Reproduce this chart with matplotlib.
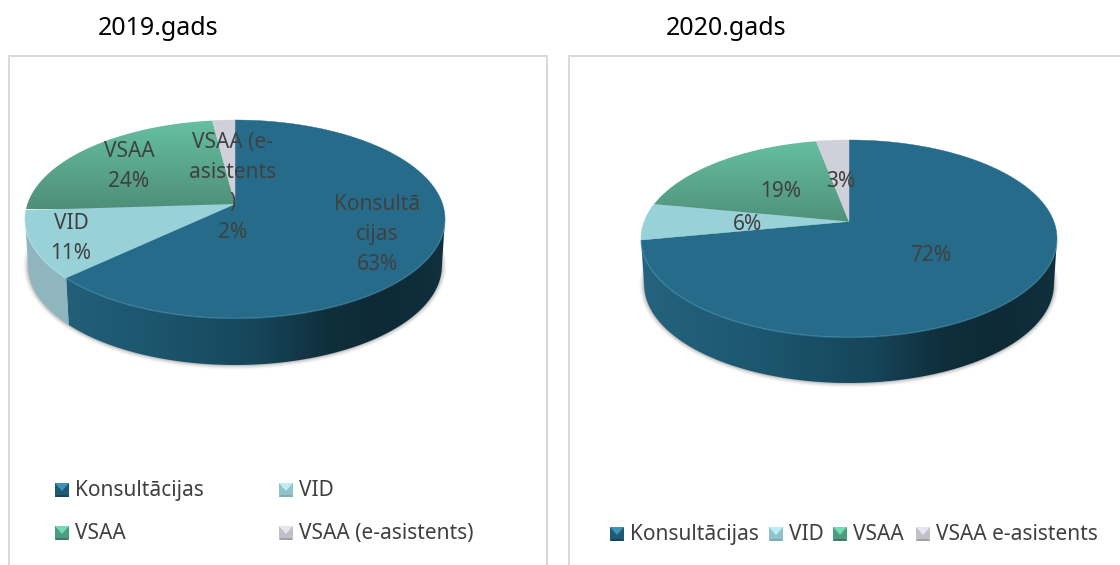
import numpy as np
import matplotlib
matplotlib.use("Agg")
import matplotlib.pyplot as plt
from matplotlib.colors import LinearSegmentedColormap as LSC
from matplotlib.patches import Polygon, Rectangle

# ---------- data ----------
titles = ["2019.gads", "2020.gads"]
categories_2019 = ["Konsultācijas", "VID", "VSAA", "VSAA (e-asistents)"]
categories_2020 = ["Konsultācijas", "VID", "VSAA", "VSAA e-asistents"]
values_2019 = [63, 11, 24, 2]
values_2020 = [72, 6, 19, 3]
wrapped_2019 = ["Konsultā\ncijas", "VID", "VSAA", "VSAA (e-\nasistents\n)"]
wrapped_2020 = ["", "", "", ""]

# ---------- styles ----------
W, H = 1120, 565
TEXT = "#404040"
TOP = ["#266C8A", "#98D2D8", None, "#D0D0DA"]
RIM = ["#4A93B2", "#B4F0F4", "#7CCFB0", "#E0E0E8"]
GREEN = LSC.from_list("g", ["#4E8F78", "#66C0A1"])
WALLS = [
    LSC.from_list("w0", [(0, "#25637E"), (.3, "#1C566E"), (.55, "#16465A"),
                         (.72, "#102F3C"), (.85, "#0D2A36"), (1, "#10303D")]),
    LSC.from_list("w1", ["#90B6BF", "#86AEB6"]),
    LSC.from_list("w2", ["#47806C", "#3E7060"]),
    LSC.from_list("w3", ["#A8A8B0", "#98989F"]),
]
SWATCH = [("#1E5A74", "#3D93B8", "#15465A"), ("#8FC3C9", "#BDEFF2", "#7FAAB0"),
          ("#4E9C80", "#70DDB6", "#3F7A65"), ("#C0C0C8", "#E6E6EC", "#A0A0A8")]

plt.rcParams["font.family"] = ["Noto Sans", "DejaVu Sans"]
fig = plt.figure(figsize=(W / 100, H / 100), dpi=100)
over = fig.add_axes([0, 0, 1, 1], zorder=1)
over.set_xlim(0, W)
over.set_ylim(H, 0)
over.axis("off")


def project(theta, c):
    x, y = np.sin(theta), np.cos(theta)
    den = 1 + c * y
    return x * np.sqrt(1 - c * c) / den, (y + c) / den


def draw_pie(values, cx, cy, a, b, apex_px, depth_px):
    c = apex_px / b
    d = depth_px / b
    mx, my = 0.06, 0.12
    left, right = cx - a * (1 + mx), cx + a * (1 + mx)
    top, bottom = cy - b * (1 + my), cy + b * (1 + d + my)
    ax = fig.add_axes([left / W, 1 - bottom / H, (right - left) / W, (bottom - top) / H], zorder=2)
    ax.axis("off")
    xlim = (-1 - mx, 1 + mx)
    ylim = (-1 - d - my, 1 + my)

    # soft shadow below the wall
    t = np.linspace(0, 2 * np.pi, 240)
    for g, al in [(.022, .05), (.016, .07), (.010, .10), (.005, .14)]:
        ax.fill(np.sin(t) * (.985 + g), np.cos(t) * (1 + g * 2) - d, color="#404040", alpha=al, lw=0)

    angles = 2 * np.pi * np.cumsum([0] + list(values)) / sum(values)

    # walls
    for i in range(len(values)):
        th = np.linspace(angles[i], angles[i + 1], 200)
        X, Y = project(th, c)
        s = np.arctan2(X, Y) % (2 * np.pi)
        s = s[(s >= np.pi / 2) & (s <= 3 * np.pi / 2)]
        if len(s) < 2:
            continue
        u0, u1 = np.sin(s), np.cos(s)
        pts = np.r_[np.c_[u0, u1], np.c_[u0[::-1] * .985, u1[::-1] - d]]
        patch = Polygon(pts, closed=True, fc="none", ec="none")
        ax.add_patch(patch)
        im = ax.imshow(np.linspace(0, 1, 256)[None, :], cmap=WALLS[i], aspect="auto",
                       extent=(-1, 1, -1 - d, 1), zorder=1.5, interpolation="bilinear")
        im.set_clip_path(patch)
        ax.plot(u0, u1 - .004, color=RIM[i], lw=1.0, alpha=.5, zorder=3.5,
                solid_capstyle="butt")

    # top face
    for i in range(len(values)):
        th = np.linspace(angles[i], angles[i + 1], 200)
        X, Y = project(th, c)
        pts = np.r_[[[0, c]], np.c_[X, Y]]
        if TOP[i] is not None:
            ax.add_patch(Polygon(pts, closed=True, fc=TOP[i], ec=TOP[i], lw=.3, zorder=3))
        else:
            patch = Polygon(pts, closed=True, fc="none", ec="none", zorder=3)
            ax.add_patch(patch)
            im = ax.imshow(np.linspace(1, 0, 256)[:, None], cmap=GREEN, aspect="auto",
                           extent=(-1, 1, c - .05, 1), zorder=3, interpolation="bilinear")
            im.set_clip_path(patch)
    ax.set_xlim(*xlim)
    ax.set_ylim(*ylim)


# panels
for x0, x1 in [(9, 547), (569, 1135)]:
    over.add_patch(Rectangle((x0, 56), x1 - x0, 520, fc="white", ec="#D9D9D9", lw=1.4))

draw_pie(values_2019, 235, 219, 210, 99, 15, 47)
draw_pie(values_2020, 849, 238.5, 208, 98.5, 17, 46)

front = fig.add_axes([0, 0, 1, 1], zorder=6)
front.set_xlim(0, W)
front.set_ylim(H, 0)
front.axis("off")


def swatch(x, y, k, s=14):
    base, light, dark = SWATCH[k]
    front.add_patch(Rectangle((x, y - s / 2), s, s, fc=base, ec="none"))
    front.add_patch(Polygon([[x, y - s / 2], [x + s, y - s / 2], [x + s / 2, y + 1]], fc=light, ec="none"))
    front.add_patch(Polygon([[x, y + s / 2], [x + s, y + s / 2], [x + s - 2, y + s / 2 - 2], [x + 2, y + s / 2 - 2]],
                            fc=dark, ec="none"))


FS = 15.0
front.text(158, 28.5, titles[0], fontsize=18, color="black", ha="center", va="center")
front.text(726, 28.5, titles[1], fontsize=18, color="black", ha="center", va="center")

# data labels
pos_2019 = [(377, 234.5), (71, 238.5), (129, 166.5), (233, 187.5)]
pos_2020 = [(931, 255.5), (748, 224.5), (781, 191.5), (841, 181.5)]
for names, vals, pos in [(wrapped_2019, values_2019, pos_2019), (wrapped_2020, values_2020, pos_2020)]:
    for n, v, (x, y) in zip(names, vals, pos):
        s = (n + "\n" if n else "") + f"{v}%"
        front.text(x, y, s, fontsize=FS, color=TEXT, ha="center", va="center",
                   linespacing=1.55, multialignment="center")

# legends
leg_2019 = [(55, 490), (279, 490), (55, 533), (279, 533)]
leg_2020 = [(610, 534), (769, 534), (833, 534), (916, 534)]
for cats, pos in [(categories_2019, leg_2019), (categories_2020, leg_2020)]:
    for k, (name, (x, y)) in enumerate(zip(cats, pos)):
        swatch(x, y, k)
        front.text(x + 20, y + .8, name, fontsize=FS, color=TEXT, ha="left", va="center")

fig.savefig("out.png", dpi=100)
